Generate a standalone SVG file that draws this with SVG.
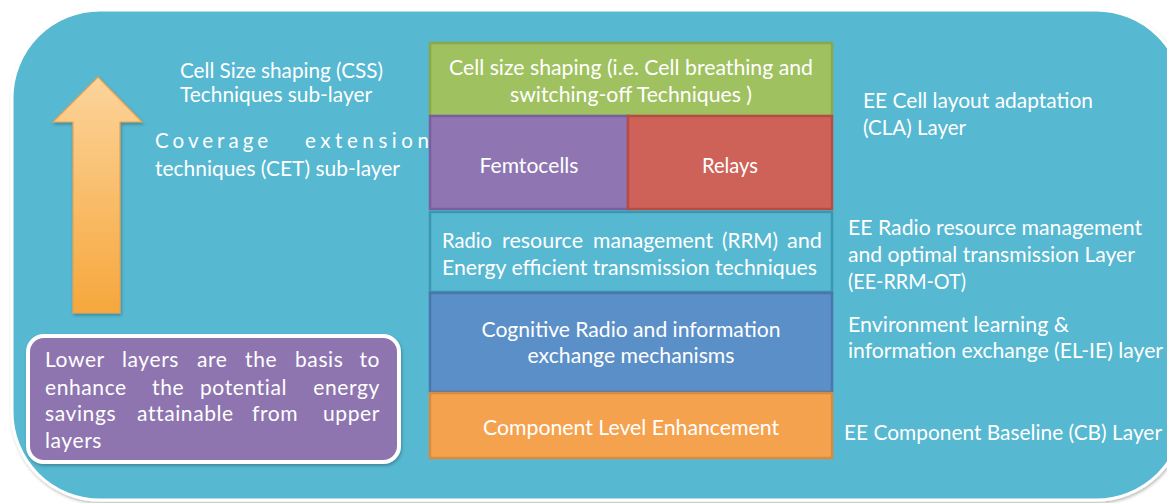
<svg xmlns="http://www.w3.org/2000/svg" width="1167" height="503" viewBox="0 0 1167 503">
<defs>
<linearGradient id="arrowGrad" x1="0" y1="0" x2="0" y2="1">
<stop offset="0" stop-color="#FCD49B"/>
<stop offset="1" stop-color="#F6A73C"/>
</linearGradient>
<filter id="sh" x="-5%" y="-5%" width="110%" height="110%">
<feDropShadow dx="1" dy="2" stdDeviation="1.5" flood-color="#000" flood-opacity="0.25"/>
</filter>
</defs>
<style>
text{font-family:Lato,"Open Sans","Liberation Sans",sans-serif;fill:#FFFFFF;font-size:20.5px}
.c{text-anchor:middle}
.e{text-anchor:end}
.box{stroke-width:2.5}
.n{font-size:21px;letter-spacing:0.6px}
</style>
<rect width="1167" height="503" fill="#FFFFFF"/>
<g id="background">
<rect x="12" y="10" width="1172" height="490" rx="88" ry="88" fill="#56B8D1" stroke="#FFFFFF" stroke-width="3" filter="url(#sh)"/>
</g>
<g id="arrow">
<path d="M98,77 L142,122 L120,122 L120,313 L73,313 L73,122 L53,122 Z" fill="url(#arrowGrad)" stroke="#E9A14E" stroke-width="1.2" filter="url(#sh)"/>
</g>
<g id="left-labels">
<text x="180" y="78" textLength="203" lengthAdjust="spacingAndGlyphs">Cell Size shaping (CSS)</text>
<text x="180" y="102" textLength="192" lengthAdjust="spacingAndGlyphs">Techniques sub-layer</text>
<text x="155" y="148" textLength="113" lengthAdjust="spacing">Coverage</text>
<text x="305" y="148" textLength="124" lengthAdjust="spacing">extension</text>
<text x="155" y="176" textLength="245" lengthAdjust="spacingAndGlyphs">techniques (CET) sub-layer</text>
</g>
<g id="css-layer">
<rect class="box" x="430" y="43" width="402" height="73" fill="#A0C15F" stroke="#8AA84C"/>
<text class="c" x="631" y="75" textLength="364" lengthAdjust="spacingAndGlyphs">Cell size shaping (i.e. Cell breathing and</text>
<text class="c" x="631" y="102" textLength="242" lengthAdjust="spacingAndGlyphs">switching-off Techniques )</text>
</g>
<g id="femtocells">
<rect class="box" x="430" y="116" width="198" height="93" fill="#8F76B2" stroke="#7A5FA0"/>
<text class="c" x="529" y="173" textLength="99" lengthAdjust="spacingAndGlyphs">Femtocells</text>
</g>
<g id="relays">
<rect class="box" x="628" y="116" width="204" height="93" fill="#CE6259" stroke="#B84C44"/>
<text class="c" x="730" y="173" textLength="56" lengthAdjust="spacingAndGlyphs">Relays</text>
</g>
<g id="rrm-layer">
<rect class="box" x="430" y="212" width="402" height="80" fill="#56B8D1" stroke="#3C97B0"/>
<text x="442" y="248" textLength="50" lengthAdjust="spacingAndGlyphs">Radio</text>
<text x="502" y="248" textLength="81" lengthAdjust="spacingAndGlyphs">resource</text>
<text x="593" y="248" textLength="120" lengthAdjust="spacingAndGlyphs">management</text>
<text x="722" y="248" textLength="56" lengthAdjust="spacingAndGlyphs">(RRM)</text>
<text x="787" y="248" textLength="35" lengthAdjust="spacingAndGlyphs">and</text>
<text x="442" y="275" textLength="375" lengthAdjust="spacingAndGlyphs">Energy efficient transmission techniques</text>
</g>
<g id="cognitive-layer">
<rect class="box" x="430" y="293" width="402" height="99" fill="#5B8FC8" stroke="#4876AD"/>
<text class="c" x="631" y="337" textLength="299" lengthAdjust="spacingAndGlyphs">Cognitive Radio and information</text>
<text class="c" x="631" y="363" textLength="207" lengthAdjust="spacingAndGlyphs">exchange mechanisms</text>
</g>
<g id="component-layer">
<rect class="box" x="430" y="393" width="402" height="65" fill="#F5A24F" stroke="#DA8A3C"/>
<text class="c" x="631" y="435" textLength="296" lengthAdjust="spacingAndGlyphs">Component Level Enhancement</text>
</g>
<g id="right-labels">
<text x="863" y="108" textLength="230" lengthAdjust="spacingAndGlyphs">EE Cell layout adaptation</text>
<text x="863" y="135" textLength="103" lengthAdjust="spacingAndGlyphs">(CLA) Layer</text>
<text x="848" y="235" textLength="294" lengthAdjust="spacingAndGlyphs">EE Radio resource management</text>
<text x="848" y="262" textLength="287" lengthAdjust="spacingAndGlyphs">and optimal transmission Layer</text>
<text x="848" y="289" textLength="118" lengthAdjust="spacingAndGlyphs">(EE-RRM-OT)</text>
<text x="848" y="332" textLength="221" lengthAdjust="spacingAndGlyphs">Environment learning &amp;</text>
<text x="848" y="358" textLength="315" lengthAdjust="spacingAndGlyphs">information exchange (EL-IE) layer</text>
<text x="844" y="440" textLength="318" lengthAdjust="spacingAndGlyphs">EE Component Baseline (CB) Layer</text>
</g>
<g id="note">
<rect x="28" y="336" width="371" height="126" rx="16" ry="16" fill="#8E74B0" stroke="#FFFFFF" stroke-width="4" filter="url(#sh)"/>
<text class="n" x="45" y="367">Lower</text>
<text class="n" x="122" y="367">layers</text>
<text class="n" x="197" y="367">are</text>
<text class="n" x="245" y="367">the</text>
<text class="n" x="295" y="367">basis</text>
<text class="n e" x="380" y="367">to</text>
<text class="n" x="45" y="395">enhance</text>
<text class="n" x="152" y="395">the</text>
<text class="n" x="200" y="395">potential</text>
<text class="n e" x="380" y="395">energy</text>
<text class="n" x="45" y="421">savings</text>
<text class="n" x="137" y="421">attainable</text>
<text class="n" x="252" y="421">from</text>
<text class="n e" x="380" y="421">upper</text>
<text class="n" x="45" y="448">layers</text>
</g>
</svg>
